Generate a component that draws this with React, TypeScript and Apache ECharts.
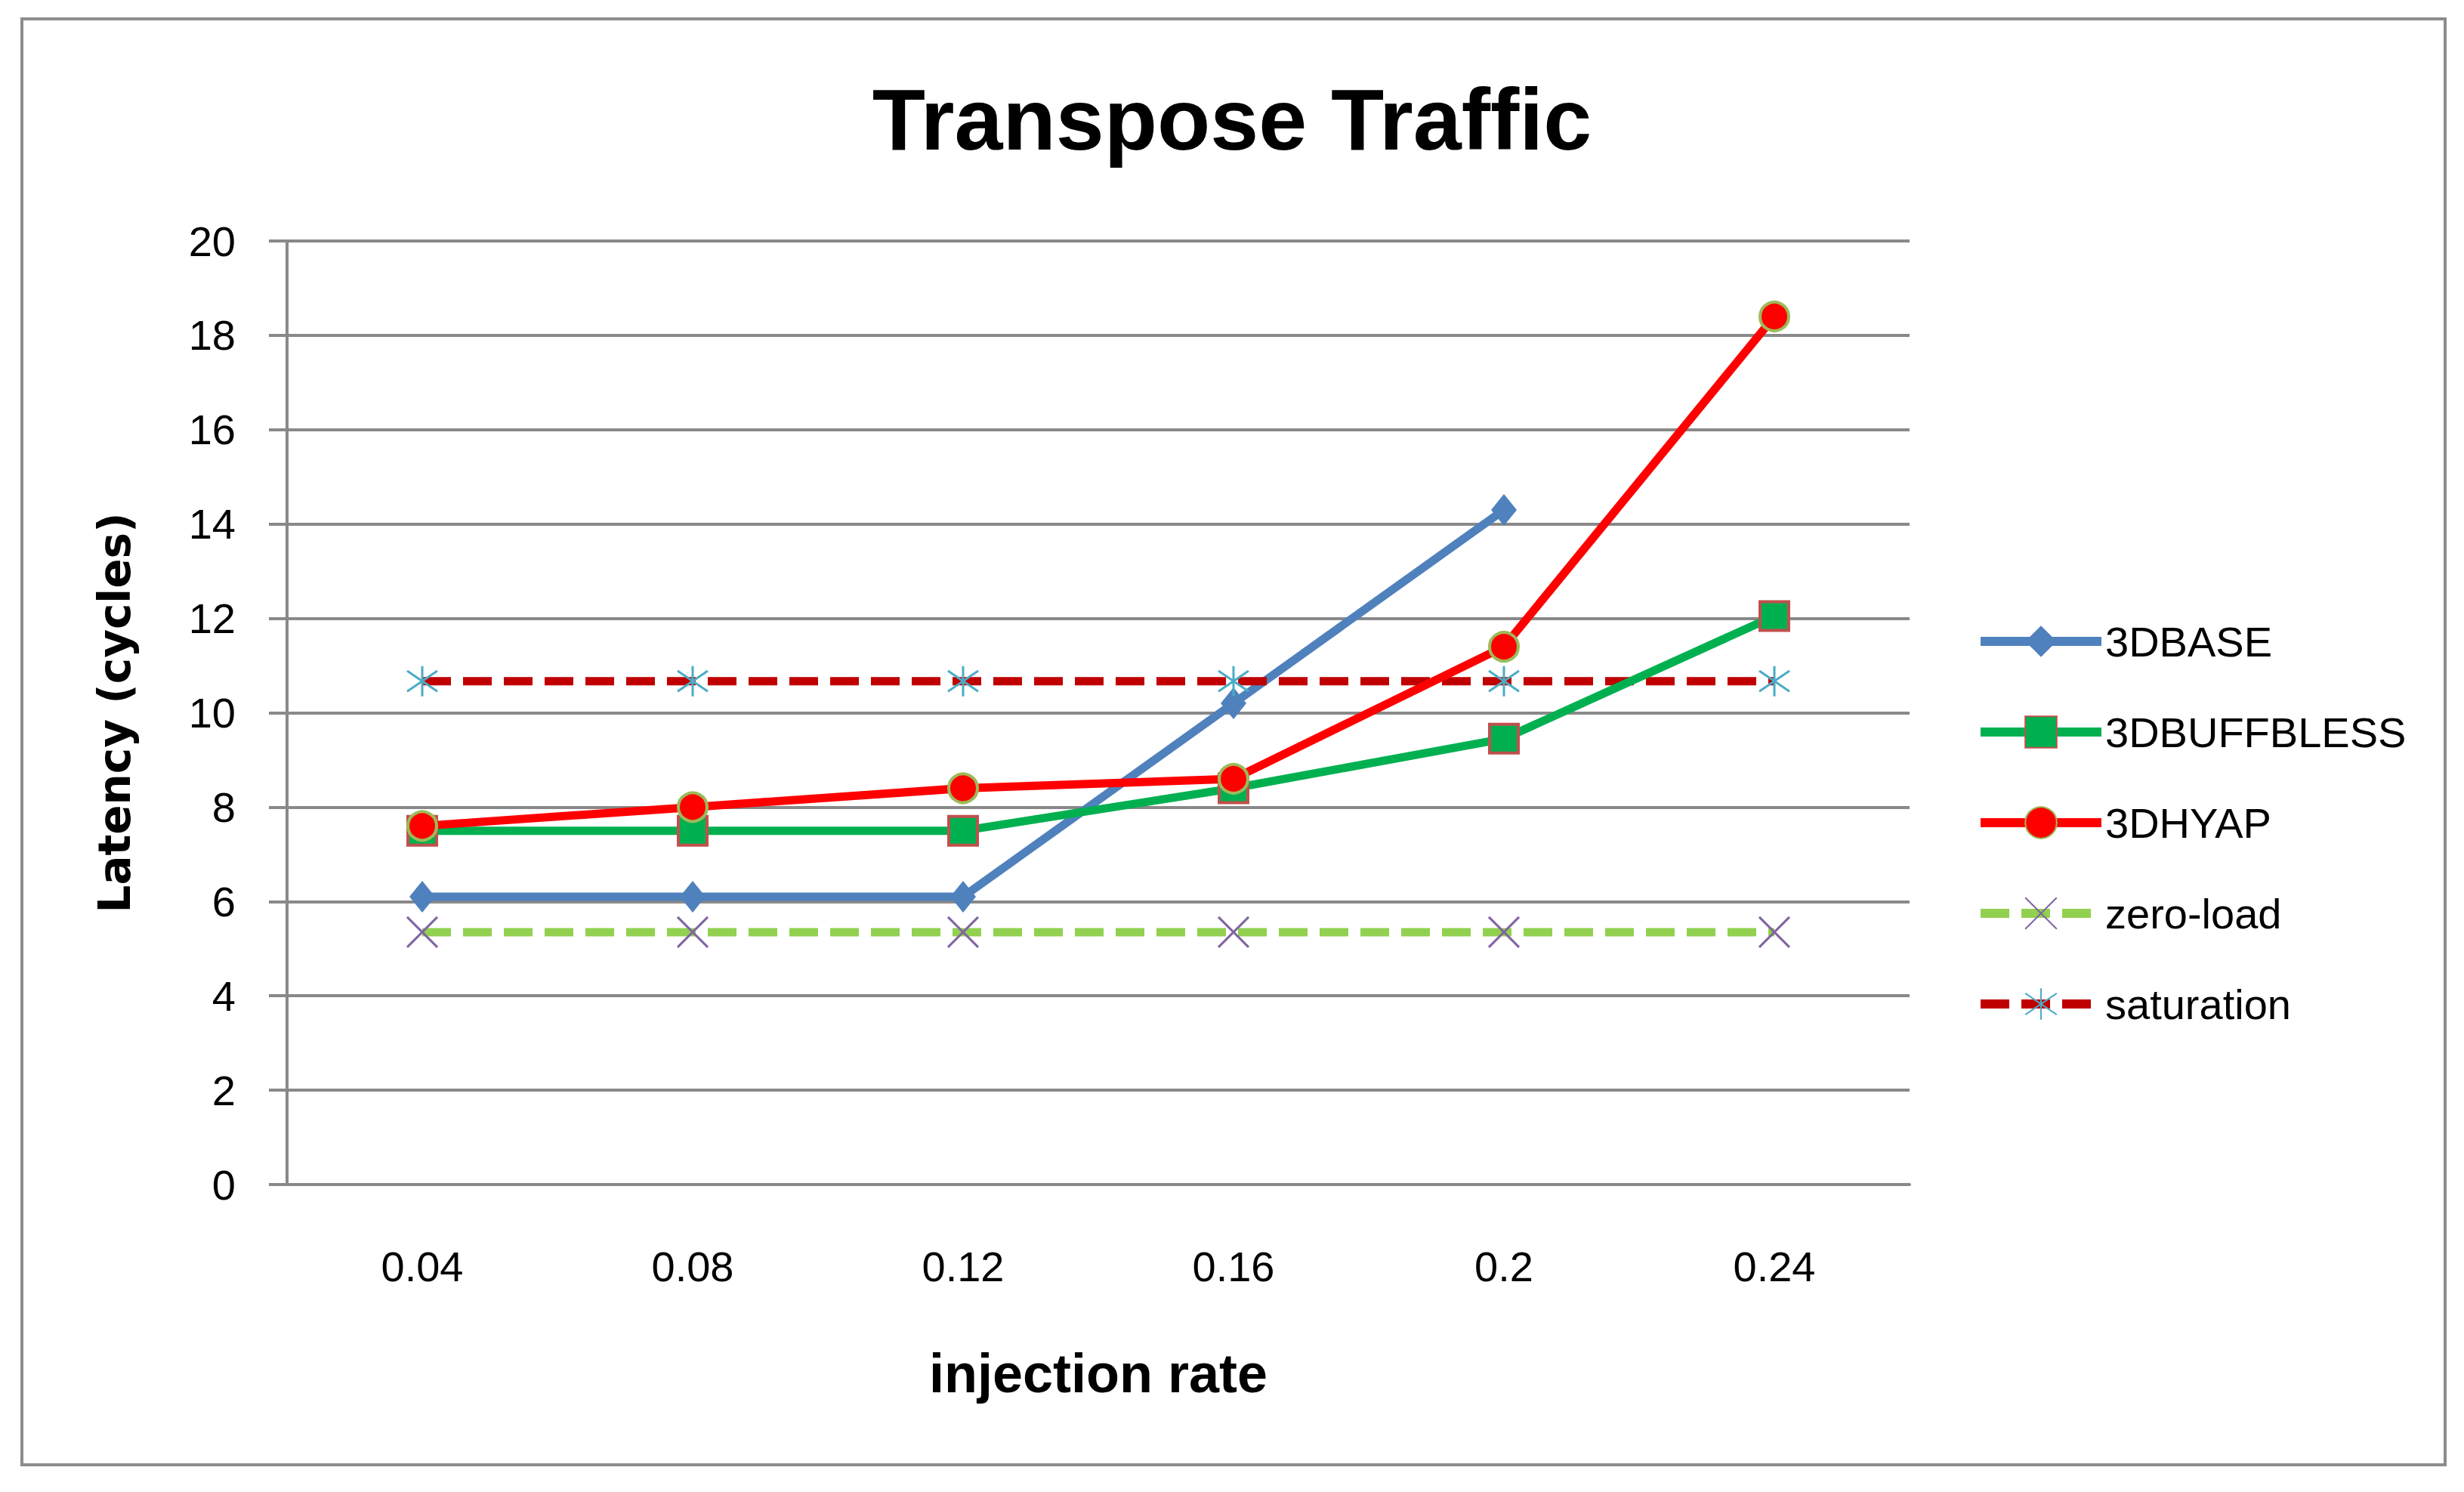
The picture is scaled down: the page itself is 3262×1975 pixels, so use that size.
import React, { useEffect, useRef } from "react";
import * as echarts from "echarts";

const categories = ["0.04", "0.08", "0.12", "0.16", "0.2", "0.24"];
const base3d = [6.1, 6.1, 6.1, 10.2, 14.3, null];
const buffbless3d = [7.5, 7.5, 7.5, 8.4, 9.45, 12.05];
const hyap3d = [7.6, 8.0, 8.4, 8.6, 11.4, 18.4];
const zeroLoad = [5.35, 5.35, 5.35, 5.35, 5.35, 5.35];
const saturation = [10.67, 10.67, 10.67, 10.67, 10.67, 10.67];
const yTicks = { min: 0, max: 20, interval: 2 };

const SANS = "'Liberation Sans', Arial, sans-serif";

export default function App() {
  const ref = useRef<HTMLDivElement>(null);
  useEffect(() => {
    document.body.style.margin = "0";
    const chart = echarts.init(ref.current!, null, { renderer: "svg" });
    const crossPath = "path://M0,0L10,10M10,0L0,10";
    const starPath = "path://M5,0L5,10M0,1.6L10,8.4M10,1.6L0,8.4";
    chart.setOption({
      animation: false,
      backgroundColor: "#ffffff",
      title: {
        text: "Transpose Traffic",
        left: 1631,
        textAlign: "center",
        top: 100,
        padding: 0,
        textStyle: {
          fontFamily: SANS,
          fontWeight: "bold",
          fontSize: 115,
          color: "#000000",
        },
      },
      graphic: [
        {
          type: "rect",
          shape: { x: 29, y: 25, width: 3208, height: 1914 },
          style: { fill: "none", stroke: "#8C8C8C", lineWidth: 4 },
          silent: true,
          z: -1,
        },
      ],
      legend: {
        orient: "vertical",
        left: 2616,
        top: 821,
        padding: 0,
        itemWidth: 160,
        itemHeight: 52,
        itemGap: 64,
        lineStyle: { width: 12 },
        textStyle: {
          fontFamily: SANS,
          fontSize: 56,
          color: "#000000",
          lineHeight: 52,
        },
        data: ["3DBASE", "3DBUFFBLESS", "3DHYAP", "zero-load", "saturation"],
      },
      grid: { left: 380, top: 319, width: 2148, height: 1249 },
      xAxis: {
        type: "category",
        data: categories,
        boundaryGap: true,
        name: "injection rate",
        nameLocation: "middle",
        nameGap: 214,
        nameTextStyle: {
          fontFamily: SANS,
          fontWeight: "bold",
          fontSize: 72,
          color: "#000000",
        },
        axisLine: { show: true, lineStyle: { color: "#898989", width: 4 } },
        axisTick: { show: false },
        axisLabel: {
          fontFamily: SANS,
          fontSize: 56,
          color: "#000000",
          margin: 80,
        },
        splitLine: { show: false },
      },
      yAxis: {
        type: "value",
        min: yTicks.min,
        max: yTicks.max,
        interval: yTicks.interval,
        name: "Latency (cycles)",
        nameLocation: "middle",
        nameGap: 199,
        nameTextStyle: {
          fontFamily: "'DejaVu Sans', Verdana, sans-serif",
          fontWeight: "bold",
          fontSize: 58,
          color: "#000000",
        },
        axisLine: { show: true, lineStyle: { color: "#898989", width: 4 } },
        axisTick: {
          show: true,
          length: 24,
          lineStyle: { color: "#898989", width: 4 },
        },
        axisLabel: {
          fontFamily: SANS,
          fontSize: 56,
          color: "#000000",
          margin: 68,
        },
        splitLine: { show: true, lineStyle: { color: "#898989", width: 4 } },
      },
      series: [
        {
          name: "3DBASE",
          type: "line",
          data: base3d,
          symbol: "diamond",
          symbolSize: [34, 42],
          lineStyle: { color: "#4F81BD", width: 11 },
          itemStyle: { color: "#4F81BD" },
          connectNulls: false,
          z: 2,
        },
        {
          name: "3DBUFFBLESS",
          type: "line",
          data: buffbless3d,
          symbol: "rect",
          symbolSize: 38,
          lineStyle: { color: "#00B050", width: 11 },
          itemStyle: { color: "#00B050", borderColor: "#C0504D", borderWidth: 4 },
          z: 3,
        },
        {
          name: "3DHYAP",
          type: "line",
          data: hyap3d,
          symbol: "circle",
          symbolSize: 38,
          lineStyle: { color: "#FF0000", width: 11 },
          itemStyle: { color: "#FF0000", borderColor: "#9BBB59", borderWidth: 4 },
          z: 4,
        },
        {
          name: "zero-load",
          type: "line",
          data: zeroLoad,
          symbol: crossPath,
          symbolSize: 40,
          lineStyle: { color: "#92D050", width: 11, type: [38, 16], cap: "butt" },
          itemStyle: { color: "#8064A2", borderColor: "#8064A2", borderWidth: 3 },
          z: 2,
        },
        {
          name: "saturation",
          type: "line",
          data: saturation,
          symbol: starPath,
          symbolSize: 40,
          lineStyle: { color: "#C00000", width: 11, type: [38, 16], cap: "butt" },
          itemStyle: { color: "#4BACC6", borderColor: "#4BACC6", borderWidth: 3 },
          z: 2,
        },
      ],
    });
    return () => chart.dispose();
  }, []);
  return (
    <div
      ref={ref}
      style={{ position: "absolute", left: 0, top: 0, width: 3262, height: 1975 }}
    />
  );
}
